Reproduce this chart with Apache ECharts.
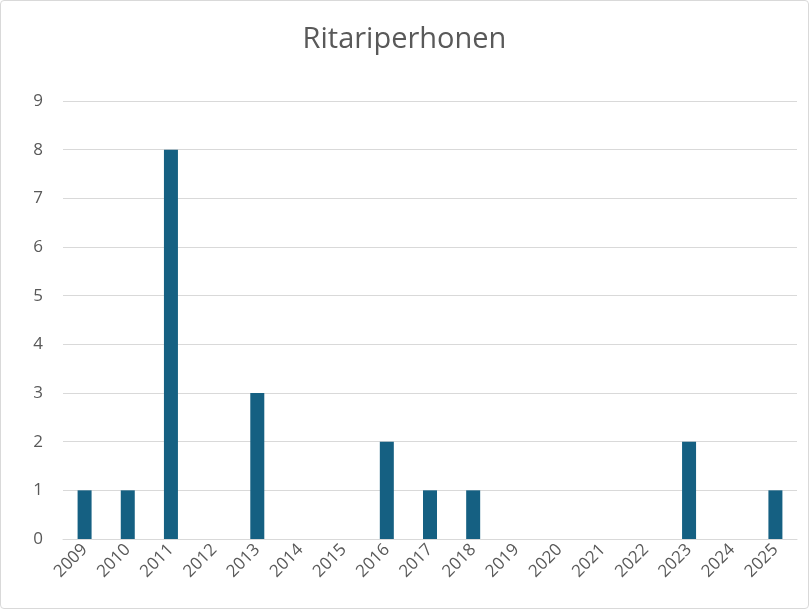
<!DOCTYPE html>
<html>
<head>
<meta charset="utf-8">
<script src="https://cdn.jsdelivr.net/npm/echarts@6/dist/echarts.min.js"></script>
<style>
	html, body { margin: 0; padding: 0; background: #fff; }
	#chart { width: 807px; height: 607px; border: 1px solid #d9d9d9; border-radius: 4px; }
</style>
</head>
<body>
<div id="chart"></div>
<script>
var years = ['2009', '2010', '2011', '2012', '2013', '2014', '2015', '2016', '2017',
	'2018', '2019', '2020', '2021', '2022', '2023', '2024', '2025'];
var counts = [1, 1, 8, 0, 3, 0, 0, 2, 1, 1, 0, 0, 0, 0, 2, 0, 1];
var yTicks = [0, 9, 1];  // min, max, interval

var chart = echarts.init(document.getElementById('chart'));
chart.setOption({
	animation: false,
	title: {
		text: 'Ritariperhonen',
		left: 'center',
		top: 19,
		textStyle: { fontFamily: 'Open Sans', fontWeight: 'normal', fontSize: 29, color: '#595959' }
	},
	grid: { left: 62, right: 11, top: 100, bottom: 69 },
	xAxis: {
		type: 'category',
		data: years,
		axisLine: { lineStyle: { color: '#d9d9d9' } },
		axisTick: { show: false },
		axisLabel: { rotate: 45, interval: 0, fontSize: 17, color: '#595959', fontFamily: 'Open Sans', margin: 8 }
	},
	yAxis: {
		type: 'value',
		min: yTicks[0],
		max: yTicks[1],
		interval: yTicks[2],
		axisLine: { show: false },
		axisTick: { show: false },
		splitLine: { lineStyle: { color: '#d9d9d9' } },
		axisLabel: { fontSize: 17, color: '#595959', fontFamily: 'Open Sans', margin: 20 }
	},
	series: [{
		type: 'bar',
		data: counts,
		barWidth: 14,
		itemStyle: { color: '#156082' }
	}]
});
</script>
</body>
</html>
